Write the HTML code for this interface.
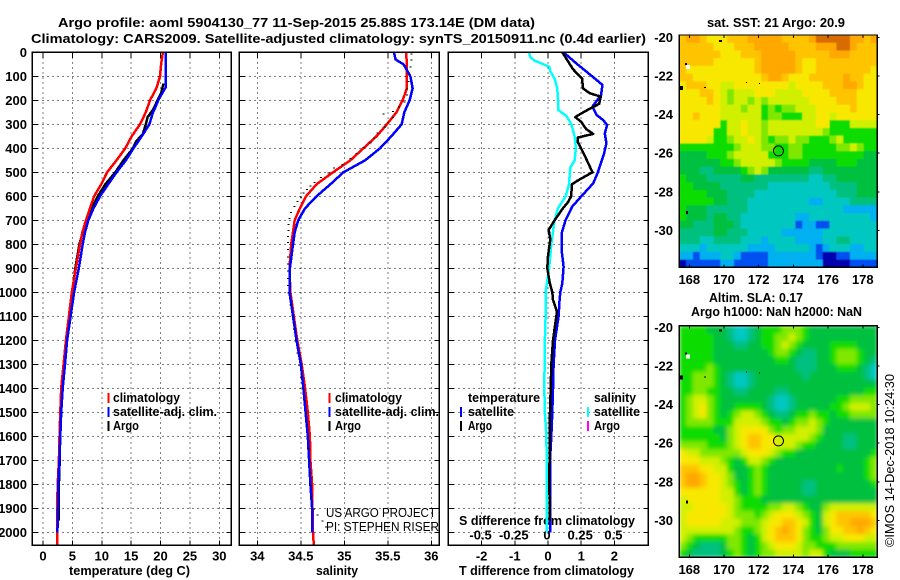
<!DOCTYPE html>
<html lang="en">
<head>
<meta charset="utf-8">
<title>Argo profile 5904130_77</title>
<style>
html,body{margin:0;padding:0;background:#fff;}
svg{display:block;}
text{font-family:"Liberation Sans",sans-serif;font-size:13px;font-weight:bold;fill:#000;}
.thin{font-weight:normal;}
</style>
</head>
<body>
<svg id="chart" xmlns="http://www.w3.org/2000/svg" width="900" height="580" viewBox="0 0 900 580">
<defs>
<filter id="soft" x="-5%" y="-5%" width="110%" height="110%"><feGaussianBlur stdDeviation="2.2"/></filter>
<filter id="softer" x="-5%" y="-5%" width="110%" height="110%"><feGaussianBlur stdDeviation="0.5"/></filter>
<clipPath id="clip-sst"><rect x="679.3" y="35" width="198" height="232.3"/></clipPath>
<clipPath id="clip-sla"><rect x="679.3" y="325.7" width="198" height="231.6"/></clipPath>
</defs>
<rect x="0" y="0" width="900" height="580" fill="#fff"/>
<text x="58" y="27" textLength="477" lengthAdjust="spacingAndGlyphs">Argo profile: aoml 5904130_77 11-Sep-2015 25.88S 173.14E (DM data)</text>
<text x="31" y="43" textLength="615" lengthAdjust="spacingAndGlyphs">Climatology: CARS2009. Satellite-adjusted climatology: synTS_20150911.nc (0.4d earlier)</text>
<text x="69" y="575" textLength="121" lengthAdjust="spacingAndGlyphs">temperature (deg C)</text>
<text x="316" y="575" textLength="42" lengthAdjust="spacingAndGlyphs">salinity</text>
<text x="459" y="575" textLength="175" lengthAdjust="spacingAndGlyphs">T difference from climatology</text>
<text x="459" y="525" textLength="176" lengthAdjust="spacingAndGlyphs">S difference from climatology</text>
<text x="707" y="27" textLength="138" lengthAdjust="spacingAndGlyphs">sat. SST: 21 Argo: 20.9</text>
<text x="709" y="302" textLength="94" lengthAdjust="spacingAndGlyphs">Altim. SLA: 0.17</text>
<text x="691" y="316" textLength="171" lengthAdjust="spacingAndGlyphs">Argo h1000: NaN h2000: NaN</text>
<text class="thin" transform="translate(894,547) rotate(-90)" x="0" y="0" textLength="173" lengthAdjust="spacingAndGlyphs">©IMOS 14-Dec-2018 10:24:30</text>
<text class="thin" x="326" y="517" textLength="110" lengthAdjust="spacingAndGlyphs">US ARGO PROJECT</text>
<text class="thin" x="326" y="531" textLength="113" lengthAdjust="spacingAndGlyphs">PI: STEPHEN RISER</text>
<g id="maps"></g>
<g id="panels"></g>
<g id="legends"></g>
</svg>
<script>
/* ---------- axis tick labels ---------- */
const depthTicks = [0,100,200,300,400,500,600,700,800,900,1000,1100,1200,1300,1400,1500,1600,1700,1800,1900,2000];
const tempTicks = [0,5,10,15,20,25,30];
const salTicks = [34,34.5,35,35.5,36];
const diffTicks = [-2,-1,0,1,2];
const sDiffTicks = [-0.5,-0.25,0,0.25,0.5];
const lonTicks = [168,170,172,174,176,178];
const latTicks = [-20,-22,-24,-26,-28,-30];

/* ---------- temperature profiles ---------- */
const tempClimDepth = [0,50,100,150,200,250,300,350,400,450,500,550,600,650,700,750,800,900,1000,1100,1200,1300,1400,1500,1600,1700,1800,1900,2000,2054];
const tempClim = [20.4,20.1,19.9,19.3,18.2,17.5,16.5,15.1,14.0,12.5,10.9,9.9,8.7,8.0,7.3,6.7,6.3,5.6,4.9,4.4,3.9,3.5,3.1,2.95,2.8,2.7,2.5,2.4,2.4,2.4];
const tempSatDepth = [0,100,145,170,200,230,250,300,350,400,450,500,550,600,650,700,750,800,900,1000,1100,1200,1300,1400,1500,1600,1700,1800,1900,2000];
const tempSat = [20.9,20.9,20.9,20.3,19.6,19.1,18.7,18.1,16.8,15.4,14.1,12.5,11.1,9.7,8.6,7.7,7.15,6.75,6.1,5.3,4.7,4.1,3.75,3.35,3.1,2.95,2.8,2.6,2.55,2.45];
const tempArgoDepth = [130,170,200,240,270,300,340,370,400,450,500,550,600,650,700,750,800,900,1000,1100,1200,1300,1400,1500,1600,1700,1800,1900,1950];
const tempArgo = [20.5,20.1,19.5,18.7,17.8,17.5,17.0,15.9,15.3,13.7,12.3,10.6,9.3,8.3,7.3,6.75,6.2,5.5,5.0,4.5,3.9,3.5,3.1,3.0,2.9,2.85,2.7,2.7,2.7];

/* ---------- salinity profiles ---------- */
const salClimDepth = [0,50,100,150,200,250,300,350,400,450,500,550,600,650,700,750,800,900,1000,1100,1200,1300,1400,1500,1600,1700,1800,1900,2000,2054];
const salClim = [35.71,35.72,35.72,35.72,35.67,35.60,35.49,35.37,35.22,35.07,34.87,34.68,34.56,34.49,34.43,34.41,34.39,34.37,34.38,34.42,34.46,34.51,34.55,34.58,34.605,34.61,34.63,34.635,34.64,34.65];
const salSatDepth = [0,30,50,100,150,200,250,300,350,400,450,500,550,600,650,700,750,800,900,1000,1100,1200,1300,1400,1500,1600,1700,1800,1900,2000];
const salSat = [35.57,35.59,35.68,35.76,35.785,35.75,35.69,35.66,35.54,35.41,35.24,34.99,34.84,34.68,34.55,34.47,34.43,34.41,34.375,34.37,34.41,34.45,34.50,34.53,34.555,34.58,34.595,34.61,34.63,34.635];
const salArgoDepth = [5,30,60,90,120,150,175,205,225,245,255,270,290,310,335,355,375,395,420,440,465,480,500,520,540,555,570,585,600,620,640,665,690,715,740,765,790,820,850,880,910,940,970,1000,1050,1100,1150,1200,1250,1300,1350,1400,1450,1500,1550,1600,1650,1700,1750,1800,1850,1900,1925,1950,1975];
const salArgo = [35.77,35.77,35.76,35.75,35.74,35.72,35.72,35.69,35.63,35.56,35.45,35.56,35.50,35.47,35.38,35.34,35.30,35.22,35.14,35.07,34.98,34.88,34.82,34.73,34.66,34.61,34.57,34.53,34.50,34.46,34.43,34.39,34.37,34.36,34.36,34.35,34.35,34.35,34.35,34.35,34.35,34.35,34.35,34.36,34.38,34.41,34.42,34.44,34.46,34.48,34.50,34.52,34.54,34.56,34.57,34.58,34.59,34.60,34.61,34.61,34.62,34.65,34.69,34.75,34.79];

/* ---------- differences from climatology ---------- */
const tDiffSatDepth = [0,46,80,115,136,178,226,261,282,303,338,379,421,463,504,546,601,643,699,754,824,893,963,1000,1030,1100,1200,1300,1400,1500,1600,1700,1800,1900,2000];
const tDiffSat = [0.47,0.85,1.15,1.46,1.64,1.6,1.34,1.46,1.66,1.78,1.71,1.76,1.69,1.59,1.49,1.36,1.0,0.73,0.53,0.41,0.41,0.47,0.43,0.37,0.35,0.32,0.21,0.17,0.15,0.13,0.10,0.06,0.06,0.06,0.06];
const tDiffArgoDepth = [0,30,70,110,150,170,185,215,235,255,270,290,320,340,355,375,420,500,530,550,600,625,650,700,740,780,850,900,960,1000,1032,1080,1100,1200,1300,1400,1500,1800,1950];
const tDiffArgo = [0.43,0.57,0.75,1.03,1.05,1.25,1.59,1.54,1.26,1.0,0.82,1.0,1.15,1.36,0.9,0.9,1.07,1.34,0.95,0.72,0.7,0.6,0.45,0.2,0.02,0.07,0,-0.02,0.05,0.13,0.15,0.27,0.25,0.15,0.1,0.08,0.06,0.04,0.06];
const sDiffSatDepth = [0,20,35,60,80,110,150,200,240,265,300,350,400,450,480,550,600,650,700,800,900,1000,1100,1200,1400,1500,1600,1800,2000];
const sDiffSat = [-0.143,-0.133,-0.10,0.01,0.018,0.05,0.07,0.075,0.075,0.138,0.176,0.2,0.21,0.2,0.168,0.158,0.133,0.075,0.05,0.025,0.008,-0.018,-0.018,-0.023,-0.028,-0.023,-0.012,-0.008,-0.008];

/* ---------- SST map cells (colour level, north to south) ---------- */
const sstCells = [
[10,11,11,10,9,9,9,10,10,10,11,11,11,11,11,10,10,10,10,11,12,12,12,12,12,11,11,10,11],
[10,10,10,10,10,9,9,9,10,10,10,11,11,11,11,11,10,10,10,10,11,11,11,12,12,11,10,10,10],
[10,10,10,10,10,10,9,9,9,10,10,10,11,11,11,11,11,10,10,10,10,10,11,11,11,10,10,10,10],
[10,10,10,10,10,9,9,9,9,9,9,10,11,11,11,11,11,10,9,9,10,10,10,10,10,10,10,10,10],
[10,9,9,9,9,9,9,9,9,9,9,10,11,11,11,11,11,10,9,9,10,10,10,10,10,10,10,10,9],
[10,10,9,9,9,9,9,9,9,9,9,9,10,11,11,10,9,9,9,10,10,10,10,10,11,10,10,9,9],
[9,10,10,10,9,9,8,8,9,9,9,9,9,9,9,9,8,9,9,9,9,10,10,10,11,11,10,9,9],
[9,9,9,10,10,9,8,7,8,8,8,9,9,9,8,8,8,8,9,9,9,9,10,10,10,10,9,9,9],
[9,9,9,9,10,9,8,7,8,8,7,8,7,8,8,8,8,8,8,9,9,9,9,10,10,10,9,9,9],
[9,9,9,9,9,9,8,8,8,7,8,8,6,7,6,7,7,8,8,8,9,9,9,9,9,10,9,9,9],
[9,9,10,9,9,9,8,8,8,8,8,8,6,7,7,6,6,6,8,8,9,9,8,9,9,9,9,9,9],
[9,9,9,9,9,9,6,8,8,9,8,8,7,8,8,8,8,8,8,8,9,9,6,6,6,8,8,8,8],
[9,9,9,9,9,6,6,8,8,9,8,8,7,8,8,8,8,8,8,8,8,7,6,6,6,6,6,6,6],
[9,9,9,9,8,6,6,7,8,8,9,8,7,6,7,7,8,7,7,6,6,6,7,8,6,6,6,6,6],
[6,6,6,6,6,6,6,6,7,8,8,8,7,7,6,6,7,7,6,6,6,6,6,7,7,8,7,6,6],
[5,5,5,5,6,6,6,7,8,8,8,8,8,6,6,6,7,7,6,6,6,6,6,6,6,6,6,5,5],
[5,5,5,5,5,5,6,6,7,8,8,8,8,8,7,6,6,6,6,5,5,5,5,6,6,6,5,5,5],
[5,5,5,4,4,5,5,5,5,6,7,8,7,5,5,5,5,5,5,4,4,5,5,5,5,5,5,5,5],
[6,5,5,5,4,4,4,4,4,5,5,4,4,4,4,4,4,4,4,3,3,4,4,5,5,5,5,5,5],
[6,6,5,5,5,5,4,4,4,4,4,4,4,3,3,3,3,3,3,3,3,3,4,4,4,4,5,5,5],
[6,6,6,6,5,5,5,4,4,4,4,3,3,3,3,3,3,3,3,3,3,3,3,4,4,4,5,5,5],
[6,6,6,6,6,5,5,4,4,4,3,3,3,3,3,3,3,3,3,2,2,3,3,3,3,4,4,4,4],
[6,5,5,5,4,4,4,4,4,4,3,3,3,3,3,3,3,3,3,3,3,3,3,3,2,2,2,2,2],
[6,5,5,5,4,5,5,4,4,3,3,3,3,3,3,3,3,2,2,3,3,3,3,3,3,3,3,3,2],
[5,5,4,4,4,5,5,5,4,3,3,3,3,3,3,3,3,1,2,2,1,1,3,3,3,3,3,3,3],
[4,4,4,4,4,5,5,4,4,4,3,3,3,3,3,2,2,2,2,2,2,3,3,3,3,3,3,3,3],
[4,4,4,3,3,4,4,4,4,3,3,3,2,3,3,3,3,2,2,2,2,3,3,4,4,3,3,3,3],
[3,3,3,2,3,3,3,3,3,3,2,2,2,2,3,3,3,3,3,2,1,2,3,3,3,2,2,3,3],
[2,2,1,2,2,2,3,3,2,1,1,1,1,2,2,2,2,2,2,2,1,0,0,1,1,2,2,2,2],
[0,1,1,1,1,1,2,2,1,1,1,1,1,2,2,2,2,2,2,2,2,0,0,0,0,1,1,1,1]
];

/* ---------- altimeter SLA map cells (colour level, north to south) ---------- */
const slaCells = [
[6,6,6,6,5,5,5,4,3,3,4,5,6,6,6,7,7,7,6,5,5,5,5,5,5,5,5,5,5],
[6,6,6,6,6,5,5,4,3,3,4,5,6,6,7,7,8,7,6,5,5,5,5,5,5,5,5,5,5],
[6,6,6,6,6,5,5,5,4,4,5,5,6,6,7,8,7,6,5,5,5,5,6,6,6,6,5,5,5],
[6,6,6,6,6,5,5,5,5,5,5,5,5,6,7,7,6,5,4,4,5,5,6,7,7,7,6,5,5],
[6,6,6,6,6,5,5,5,5,5,5,5,5,5,6,6,5,4,4,4,5,5,6,7,7,7,6,5,4],
[6,6,6,6,7,6,5,5,5,5,5,5,5,5,5,5,5,4,4,4,5,5,5,6,6,6,5,4,3],
[6,6,7,7,7,6,5,4,3,3,4,5,5,5,5,5,5,5,4,5,5,5,5,5,5,5,5,4,3],
[6,6,7,7,7,6,5,4,3,3,4,5,5,5,5,5,5,5,5,5,5,5,5,5,5,5,5,5,5],
[6,6,7,7,6,6,5,5,4,4,5,5,5,5,4,4,5,5,5,5,5,5,5,5,5,5,5,6,6],
[6,7,8,8,7,6,5,5,5,5,5,5,5,4,3,3,4,5,5,5,5,5,5,6,6,7,7,7,7],
[6,7,8,9,7,6,5,5,6,6,6,6,5,4,3,3,4,5,5,5,5,5,6,6,7,8,8,8,7],
[6,7,8,9,7,6,5,6,7,8,8,7,6,5,4,4,5,6,6,7,6,6,5,6,6,7,7,7,7],
[6,7,7,7,7,6,6,6,8,8,8,8,7,6,6,5,6,7,7,8,7,6,5,5,5,5,5,5,5],
[6,6,6,6,6,5,5,7,8,9,9,9,9,7,6,7,7,8,8,8,7,5,5,5,5,5,5,5,5],
[6,6,6,6,6,6,5,7,8,9,10,10,9,9,8,8,8,8,8,7,6,5,5,5,4,4,5,5,5],
[7,7,7,7,6,6,6,7,8,9,10,10,9,9,8,8,8,7,6,6,5,5,5,5,4,4,5,5,5],
[9,8,8,7,7,7,7,7,7,8,9,9,9,8,7,6,6,5,5,5,5,5,5,5,5,5,5,5,6],
[9,9,9,8,8,8,7,6,5,6,8,8,7,6,5,5,5,5,5,5,5,5,5,5,5,5,5,6,7],
[10,10,10,9,9,8,8,6,5,5,6,7,6,5,5,5,5,5,5,5,5,5,5,6,5,5,5,6,7],
[10,11,11,10,9,9,8,7,5,5,6,7,6,5,5,5,5,5,5,5,5,5,5,5,5,5,5,6,7],
[10,11,11,10,9,9,8,7,6,5,6,7,6,5,5,5,5,5,4,4,5,5,5,5,5,5,5,5,6],
[9,9,9,9,9,9,8,8,6,5,6,7,6,5,5,5,5,5,4,4,5,5,5,5,5,5,5,5,5],
[8,9,9,9,9,9,8,8,7,6,6,6,5,5,5,5,5,5,5,5,5,5,5,5,5,5,5,5,5],
[8,8,9,9,9,9,9,8,7,6,6,6,6,7,7,8,8,7,6,5,5,7,8,8,8,8,8,8,8],
[8,9,9,9,9,9,9,8,7,7,7,6,7,8,9,9,9,8,7,6,5,8,9,10,10,10,10,10,9],
[8,9,9,9,9,9,8,8,8,7,7,7,8,9,9,10,10,9,8,6,5,8,9,10,10,11,11,11,10],
[8,8,8,8,8,8,8,8,7,6,6,7,8,9,10,11,10,9,7,6,5,7,9,9,10,10,11,10,9],
[8,7,6,6,6,6,6,7,7,6,5,6,8,9,10,10,10,9,7,6,6,7,8,8,9,9,9,8,8],
[7,6,5,4,4,4,5,7,7,6,5,6,7,8,9,9,9,8,7,7,6,6,6,7,7,7,7,7,7],
[6,5,4,4,4,4,5,6,7,6,5,6,7,7,8,8,8,8,7,8,8,6,5,5,5,6,6,6,6]
];

/* ---------- float position ---------- */
const floatLon = 173.14;
const floatLat = -25.88;

const levelColors = ["#0000b0","#0050f0","#00b0f0","#00c8c0","#00c080","#00c040","#10dc00","#80e800","#d0f000","#f8e800","#ffc400","#ffa800","#d86c00"];

const NS = "http://www.w3.org/2000/svg";
const panelsG = document.getElementById("panels");
const mapsG = document.getElementById("maps");
const legendsG = document.getElementById("legends");

/* axis functions */
function depthY(d){ return 52.3 + 0.24*d; }
function tempX(t){ return 43 + 5.877*t; }
function salX(s){ return 257.3 + 87*(s-34); }
function diffX(v){ return 548 + 33.2*v; }
function sDiffX(v){ return diffX(v*4); }
function lonX(lon){ return 689.3 + 17.35*(lon-168); }
function latYSst(lat){ return 37.4 + 19.3*(-20-lat); }
function latYSla(lat){ return 327.4 + 19.3*(-20-lat); }

function make(tag, attrs, parent){
  const el = document.createElementNS(NS, tag);
  for (const k in attrs) el.setAttribute(k, attrs[k]);
  parent.appendChild(el);
  return el;
}

function drawFrame(x0, x1, y0, y1, name){
  const r = make("rect", {x:x0, y:y0, width:x1-x0, height:y1-y0, fill:"none", stroke:"#000", "stroke-width":1.2, "shape-rendering":"crispEdges"}, panelsG);
  
  
}

function gridLine(x1, y1, x2, y2, name){
  const l = make("line", {x1:x1, y1:y1, x2:x2, y2:y2, stroke:"#000", "stroke-width":1, "stroke-dasharray":"1 4", "shape-rendering":"crispEdges"}, panelsG);
  
  
}

function tickMark(x1, y1, x2, y2, name){
  const l = make("line", {x1:x1, y1:y1, x2:x2, y2:y2, stroke:"#000", "stroke-width":1, "shape-rendering":"crispEdges"}, panelsG);
  
  
}

function label(x, y, str, anchor, name, parent){
  const t = make("text", {x:x, y:y, "text-anchor":anchor}, parent || panelsG);
  t.textContent = str;
  
  
  return t;
}

function profileLine(depths, values, xFn, color, width, name){
  const pts = depths.map((d,i) => xFn(values[i]).toFixed(1) + "," + depthY(d).toFixed(1)).join(" ");
  const p = make("polyline", {points:pts, fill:"none", stroke:color, "stroke-width":width, "shape-rendering":"crispEdges", "stroke-linejoin":"round"}, panelsG);
  
  
}

const P = {t0:32.3, t1:231.3, s0:239.3, s1:439.3, d0:448.3, d1:648.3, top:52.3, bot:545.3};

function drawPanel(x0, x1, ticks, xFn, prefix){
  ticks.forEach(v => {
    gridLine(xFn(v), P.top, xFn(v), P.bot, prefix + "-vertical-grid-line");
    tickMark(xFn(v), P.top, xFn(v), P.top + 5, prefix + "-top-tick");
    tickMark(xFn(v), P.bot - 5, xFn(v), P.bot, prefix + "-bottom-tick");
    label(xFn(v), 560.5, String(v), "middle", prefix + "-tick-label");
  });
  depthTicks.forEach(d => {
    gridLine(x0, depthY(d), x1, depthY(d), prefix + "-horizontal-grid-line");
    tickMark(x0, depthY(d), x0 + 5, depthY(d), prefix + "-left-tick");
    tickMark(x1 - 5, depthY(d), x1, depthY(d), prefix + "-right-tick");
  });
}

drawPanel(P.t0, P.t1, tempTicks, tempX, "temperature");
drawPanel(P.s0, P.s1, salTicks, salX, "salinity");
drawPanel(P.d0, P.d1, diffTicks, diffX, "t-difference");

depthTicks.forEach(d => {
  label(27, depthY(d) + 4.5, String(d), "end", "depth-tick-label");
});

sDiffTicks.forEach(v => {
  label(sDiffX(v) - 1, 539.5, String(v), "middle", "s-difference-tick-label");
});

/* temperature */
profileLine(tempArgoDepth, tempArgo, tempX, "#000", 2.5, "temperature-argo-line");
profileLine(tempClimDepth, tempClim, tempX, "#ff0000", 2.5, "temperature-climatology-line");
profileLine(tempSatDepth, tempSat, tempX, "#0000ff", 2.5, "temperature-satellite-line");

/* salinity */
profileLine(salClimDepth, salClim, salX, "#ff0000", 2.5, "salinity-climatology-line");
profileLine(salSatDepth, salSat, salX, "#0000ff", 2.5, "salinity-satellite-line");
salArgoDepth.forEach((d,i) => {
  const dot = make("rect", {x:salX(salArgo[i])-1, y:depthY(d), width:2, height:1, fill:"#000", "shape-rendering":"crispEdges"}, panelsG);
  
  
});

/* differences */
profileLine(sDiffSatDepth, sDiffSat, sDiffX, "#00ffff", 2.5, "s-difference-satellite-line");
profileLine(tDiffSatDepth, tDiffSat, diffX, "#0000ff", 2.5, "t-difference-satellite-line");
profileLine(tDiffArgoDepth, tDiffArgo, diffX, "#000", 2.5, "t-difference-argo-line");

drawFrame(P.t0, P.t1, P.top, P.bot, "temperature-plot-frame");
drawFrame(P.s0, P.s1, P.top, P.bot, "salinity-plot-frame");
drawFrame(P.d0, P.d1, P.top, P.bot, "difference-plot-frame");

/* maps */
function drawMap(cells, x0, y0, w, h, clip, filter, prefix, yFn, labelY){
  const g = make("g", {"clip-path":"url(#"+clip+")"}, mapsG);
  
  
  const inner = make("g", {filter:"url(#"+filter+")"}, g);
  const rows = cells.length, cols = cells[0].length;
  const cw = w/cols, ch = h/rows;
  cells.forEach((row,j) => {
    row.forEach((v,i) => {
      const c = make("rect", {x:(x0+i*cw).toFixed(2), y:(y0+j*ch).toFixed(2), width:(cw+0.4).toFixed(2), height:(ch+0.4).toFixed(2), fill:levelColors[v]}, inner);
      
      
    });
  });
  const frame = make("rect", {x:x0, y:y0, width:w, height:h, fill:"none", stroke:"#000", "stroke-width":1.2, "shape-rendering":"crispEdges"}, mapsG);
  
  
  lonTicks.forEach(lon => {
    const tk = make("line", {x1:lonX(lon), x2:lonX(lon), y1:y0, y2:y0+3, stroke:"#000", "shape-rendering":"crispEdges"}, mapsG);
    
    
    const tk2 = make("line", {x1:lonX(lon), x2:lonX(lon), y1:y0+h-3, y2:y0+h, stroke:"#000", "shape-rendering":"crispEdges"}, mapsG);
    
    
    label(lonX(lon), labelY, String(lon), "middle", prefix + "-map-lon-label", mapsG);
  });
  latTicks.forEach(lat => {
    const tk = make("line", {x1:x0+w, x2:x0+w+2, y1:yFn(lat), y2:yFn(lat), stroke:"#000", "shape-rendering":"crispEdges"}, mapsG);
    
    
    label(673, yFn(lat) + 4.5, String(lat), "end", prefix + "-map-lat-label", mapsG);
  });
  const marker = make("circle", {cx:lonX(floatLon), cy:yFn(floatLat), r:5, fill:"none", stroke:"#000", "stroke-width":1}, mapsG);
  
  
}

drawMap(sstCells, 679.3, 35, 198, 232.3, "clip-sst", "softer", "sst", latYSst, 284);
drawMap(slaCells, 679.3, 325.7, 198, 231.6, "clip-sla", "soft", "sla", latYSla, 574);

function island(x, y, w, h, color, name){
  const r = make("rect", {x:x, y:y, width:w, height:h, fill:color, "shape-rendering":"crispEdges"}, mapsG);
  
  
}
[0, 289.5].forEach((dy, idx) => {
  const nm = idx === 0 ? "sst-map-island" : "sla-map-island";
  island(686, 65+dy, 4, 4, "#fff", nm);
  island(685, 63+dy, 2, 2, "#000", nm);
  island(680, 86+dy, 3, 4, "#000", nm);
  island(719, 40+dy, 3, 2, "#000", nm);
  island(704, 87+dy, 2, 1, "#000", nm);
  island(686, 211+dy, 2, 3, "#000", nm);
  island(746, 82+dy, 1, 1, "#000", nm);
  island(759, 83+dy, 1, 1, "#000", nm);
});

/* legends */
function legendEntry(stickX, textX, y, color, str, width, name){
  const s = make("rect", {x:stickX, y:y-5, width:2, height:10, fill:color, "shape-rendering":"crispEdges"}, legendsG);
  
  
  const t = label(textX, y+4, str, "start", name + '-label', legendsG);
  t.setAttribute('textLength', width);
  t.setAttribute('lengthAdjust', 'spacingAndGlyphs');
}
legendEntry(107.5, 113, 398, "#ff0000", "climatology", 67, "temperature-legend-climatology");
legendEntry(107.5, 113, 412, "#0000ff", "satellite-adj. clim.", 104, "temperature-legend-satellite");
legendEntry(107.5, 113, 426, "#000", "Argo", 26, "temperature-legend-argo");
legendEntry(328.5, 335, 398, "#ff0000", "climatology", 67, "salinity-legend-climatology");
legendEntry(328.5, 335, 412, "#0000ff", "satellite-adj. clim.", 104, "salinity-legend-satellite");
legendEntry(328.5, 335, 426, "#000", "Argo", 26, "salinity-legend-argo");
legendEntry(460, 468, 412, "#0000ff", "satellite", 46, "t-difference-legend-satellite");
legendEntry(460, 468, 426, "#000", "Argo", 24, "t-difference-legend-argo");
legendEntry(587, 594, 412, "#00ffff", "satellite", 46, "s-difference-legend-satellite");
legendEntry(587, 594, 426, "#ff00ff", "Argo", 26, "s-difference-legend-argo");
const lt = label(468, 402, "temperature", "start", "t-difference-legend-heading", legendsG);
lt.setAttribute('textLength', 72);
lt.setAttribute('lengthAdjust', 'spacingAndGlyphs');
const ls = label(594, 402, "salinity", "start", "s-difference-legend-heading", legendsG);
ls.setAttribute('textLength', 42);
ls.setAttribute('lengthAdjust', 'spacingAndGlyphs');
</script>
</body>
</html>
